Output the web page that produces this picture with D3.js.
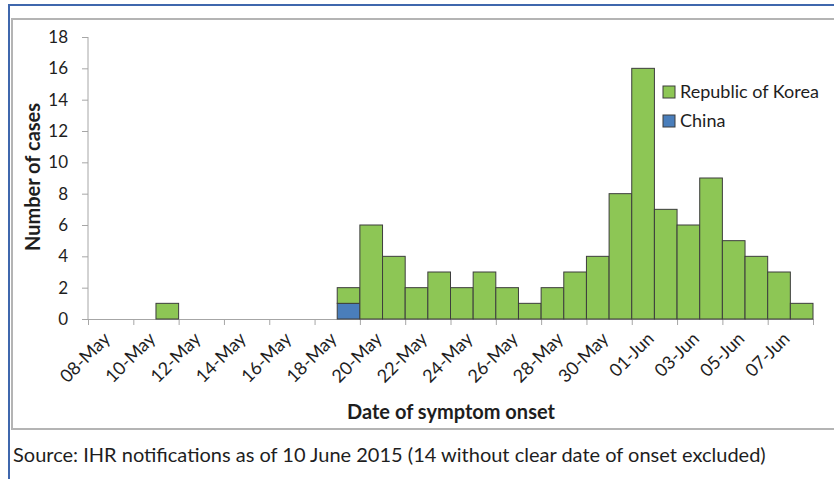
<!DOCTYPE html>
<html>
<head>
<meta charset="utf-8">
<script src="https://cdn.jsdelivr.net/npm/d3@7"></script>
<style>
  body { margin: 0; background: #fff; }
  svg { display: block; font-family: Lato, 'Open Sans', sans-serif; }
  .axis path, .axis line { stroke: #a6a6a6; }
  .axis text { fill: #1e1e1e; font-size: 17px; font-family: Lato, sans-serif; }
</style>
</head>
<body>
<script>
const dates = ['08-May', '09-May', '10-May', '11-May', '12-May', '13-May', '14-May', '15-May',
  '16-May', '17-May', '18-May', '19-May', '20-May', '21-May', '22-May', '23-May', '24-May',
  '25-May', '26-May', '27-May', '28-May', '29-May', '30-May', '31-May', '01-Jun', '02-Jun',
  '03-Jun', '04-Jun', '05-Jun', '06-Jun', '07-Jun', '08-Jun'];
const china = [0, 0, 0, 0, 0, 0, 0, 0, 0, 0, 0, 1, 0, 0, 0, 0, 0, 0, 0, 0, 0, 0, 0, 0, 0, 0,
  0, 0, 0, 0, 0, 0];
const korea = [0, 0, 0, 1, 0, 0, 0, 0, 0, 0, 0, 1, 6, 4, 2, 3, 2, 3, 2, 1, 2, 3, 4, 8, 16, 7,
  6, 9, 5, 4, 3, 1];
const yTicks = [0, 2, 4, 6, 8, 10, 12, 14, 16, 18];
const seriesNames = ['China', 'Republic of Korea'];
const colors = { China: '#4a7ebb', 'Republic of Korea': '#8dc655' };

const width = 834;
const height = 479;
const margin = { top: 37, right: 21, bottom: 160, left: 88 };

const svg = d3.select('body').append('svg')
  .attr('width', width)
  .attr('height', height);

// frame
svg.append('rect')
  .attr('x', 12).attr('y', 19)
  .attr('width', width).attr('height', 410)
  .attr('fill', 'none')
  .attr('stroke', '#b4b4b4')
  .attr('stroke-width', 2);
svg.append('line')
  .attr('x1', 8).attr('x2', width).attr('y1', 5).attr('y2', 5)
  .attr('stroke', '#3f67ad').attr('stroke-width', 2);
svg.append('line')
  .attr('x1', 9).attr('x2', 9).attr('y1', 5).attr('y2', height)
  .attr('stroke', '#3f67ad').attr('stroke-width', 2);

const x = d3.scaleBand()
  .domain(dates)
  .range([margin.left, width - margin.right])
  .padding(0);

const idx = d3.scaleLinear()
  .domain([0, dates.length])
  .range([margin.left, width - margin.right]);

const y = d3.scaleLinear()
  .domain([0, 18])
  .range([height - margin.bottom, margin.top]);

const rows = dates.map((d, i) => ({ date: d, China: china[i], 'Republic of Korea': korea[i] }));
const stacked = d3.stack().keys(seriesNames)(rows);

// y axis
svg.append('g')
  .attr('class', 'axis')
  .attr('transform', `translate(${margin.left}, 0)`)
  .call(d3.axisLeft(y).tickValues(yTicks).tickSize(6).tickPadding(14))
  .call(g => g.select('.domain').attr('d', `M0,${y(0)}V${y(18)}`));

// x axis tick marks
svg.append('g')
  .attr('class', 'axis')
  .attr('transform', `translate(0, ${y(0)})`)
  .call(d3.axisBottom(idx).tickValues(d3.range(0, dates.length + 1, 2)).tickFormat('').tickSize(6).tickSizeOuter(0));

// bars
svg.append('g')
  .selectAll('g')
  .data(stacked)
  .join('g')
  .attr('fill', d => colors[d.key])
  .selectAll('rect')
  .data(d => d.filter(p => p[1] - p[0] > 0))
  .join('rect')
  .attr('x', d => x(d.data.date))
  .attr('y', d => y(d[1]))
  .attr('width', x.bandwidth())
  .attr('height', d => y(d[0]) - y(d[1]))
  .attr('stroke', '#3d3d3d')
  .attr('stroke-width', 1);

// x labels
svg.append('g')
  .selectAll('text')
  .data(dates.filter((d, i) => i % 2 === 0))
  .join('text')
  .attr('transform', d => `translate(${x(d) + x.bandwidth() / 2 + 3}, ${y(0) + 12}) rotate(-45)`)
  .attr('text-anchor', 'end')
  .attr('dy', '0.7em')
  .attr('font-size', 18)
  .attr('fill', '#1e1e1e')
  .text(d => d);

// axis titles
svg.append('text')
  .attr('x', 451)
  .attr('y', 419)
  .attr('text-anchor', 'middle')
  .attr('font-size', 20)
  .attr('font-weight', 'bold')
  .attr('fill', '#1e1e1e')
  .text('Date of symptom onset');

svg.append('text')
  .attr('transform', 'translate(40, 177) rotate(-90)')
  .attr('text-anchor', 'middle')
  .attr('font-size', 20)
  .attr('font-weight', 'bold')
  .attr('fill', '#1e1e1e')
  .text('Number of cases');

// legend
const legend = svg.append('g')
  .selectAll('g')
  .data(seriesNames.slice().reverse())
  .join('g')
  .attr('transform', (d, i) => `translate(663, ${86 + i * 29})`);
legend.append('rect')
  .attr('width', 12).attr('height', 12)
  .attr('fill', d => colors[d])
  .attr('stroke', '#3d3d3d');
legend.append('text')
  .attr('x', 17).attr('y', 6)
  .attr('dy', '0.35em')
  .attr('font-size', 18)
  .attr('fill', '#1e1e1e')
  .text(d => d);

// source note
svg.append('text')
  .attr('x', 13)
  .attr('y', 462)
  .attr('font-size', 20)
  .attr('fill', '#1e1e1e')
  .text('Source: IHR notifications as of 10 June 2015 (14 without clear date of onset excluded)');
</script>
</body>
</html>
